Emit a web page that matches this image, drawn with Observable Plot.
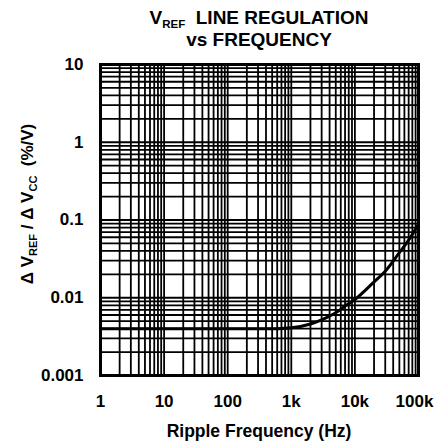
<!DOCTYPE html>
<html>
<head>
<meta charset="utf-8">
<script src="https://cdn.jsdelivr.net/npm/d3@7"></script>
<script src="https://cdn.jsdelivr.net/npm/@observablehq/plot@0.6"></script>
<style>
  html, body { margin: 0; padding: 0; background: #fff; }
  #wrap { position: relative; width: 434px; height: 444px; overflow: hidden; font-family: "Liberation Sans", Arial, Helvetica, sans-serif; font-weight: bold; color: #000; }
  #title { position: absolute; left: 60px; width: 398px; top: 7px; text-align: center; font-size: 19px; line-height: 22px; }
  #title sub { font-size: 11.5px; vertical-align: -4px; line-height: 0; }
  #ylabel { position: absolute; left: 28px; top: 204px; transform: translate(-50%, -50%) rotate(-90deg); white-space: nowrap; font-size: 17px; }
  #ylabel sub { font-size: 11px; vertical-align: -4px; line-height: 0; }
  #xlabel { position: absolute; left: 60px; width: 398px; top: 421px; text-align: center; font-size: 17.5px; line-height: 20px; }
  svg { position: absolute; left: 0; top: 0; }
</style>
</head>
<body>
<div id="wrap">
  <div id="title">V<sub>REF</sub>&nbsp; LINE REGULATION<br>vs FREQUENCY</div>
  <div id="ylabel">Δ V<sub>REF</sub> / Δ V<sub>CC</sub>&nbsp; (%/V)</div>
  <div id="xlabel">Ripple Frequency (Hz)</div>
</div>
<script>
// Data
const freq = [1, 10, 100, 300, 600, 1000, 2000, 3000, 5000, 7000, 10000, 20000, 30000, 50000, 70000, 100000];
const regulation = [0.0040, 0.0040, 0.0040, 0.0040, 0.0040, 0.0041, 0.0046, 0.0052, 0.0064, 0.0078, 0.0095, 0.016, 0.022, 0.038, 0.055, 0.088];

const xTickValues = [1, 10, 100, 1000, 10000, 100000];
const xTickLabels = ["1", "10", "100", "1k", "10k", "100k"];
const yTickValues = [0.001, 0.01, 0.1, 1, 10];
const yTickLabels = ["0.001", "0.01", "0.1", "1", "10"];

const xDecades = [1, 10, 100, 1000, 10000];
const yDecades = [0.001, 0.01, 0.1, 1];
const mult = [1, 2, 3, 4, 5, 6, 7, 8, 9];

const xGrid = xDecades.flatMap(d => mult.map(m => d * m)).concat([100000]);
const yGrid = yDecades.flatMap(d => mult.map(m => d * m)).concat([10]);

const data = freq.map((f, i) => ({f, r: regulation[i]}));
const lastX = xTickValues[xTickValues.length - 1];

const chart = Plot.plot({
  width: 434,
  height: 444,
  marginLeft: 100,
  marginRight: 16,
  marginTop: 64,
  marginBottom: 69,
  style: {fontFamily: "'Liberation Sans', Arial, Helvetica, sans-serif", fontWeight: "bold", fontSize: "17px", color: "#000", background: "transparent", overflow: "visible"},
  x: {type: "log", domain: [1, 100000]},
  y: {type: "log", domain: [0.001, 10]},
  marks: [
    Plot.ruleX(xGrid, {stroke: "#000", strokeWidth: 1.8}),
    Plot.ruleY(yGrid, {stroke: "#000", strokeWidth: 1.8}),
    Plot.line(data, {x: "f", y: "r", stroke: "#000", strokeWidth: 3, curve: "monotone-x"}),
    Plot.frame({stroke: "#000", strokeWidth: 3}),
    Plot.axisX({ticks: xTickValues.slice(0, -1), tickFormat: d => xTickLabels[xTickValues.indexOf(d)], tickSize: 0, tickPadding: 19, label: null, fontSize: 17, fill: "#000"}),
    Plot.axisX({ticks: [lastX], tickFormat: d => xTickLabels[xTickValues.indexOf(d)], tickSize: 0, tickPadding: 19, label: null, fontSize: 17, fill: "#000", dx: -4}),
    Plot.axisY({ticks: yTickValues, tickFormat: d => yTickLabels[yTickValues.indexOf(d)], tickSize: 0, tickPadding: 17, label: null, fontSize: 17, fill: "#000"})
  ]
});
document.getElementById("wrap").prepend(chart);
</script>
</body>
</html>
